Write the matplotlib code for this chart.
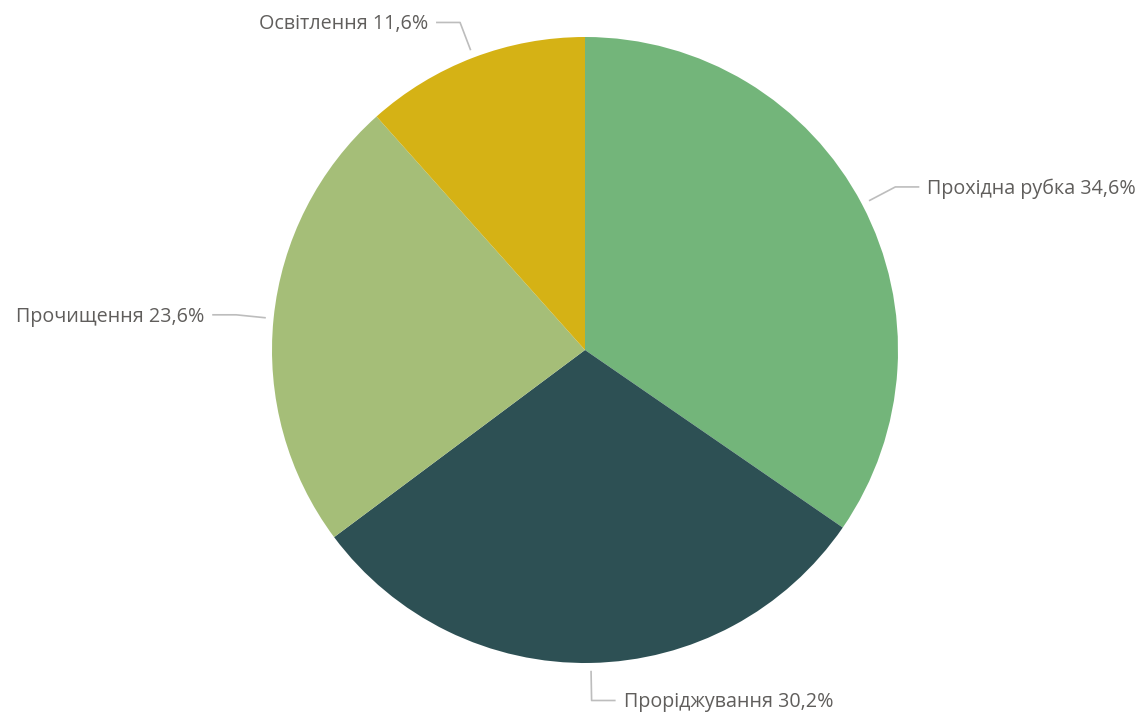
import numpy as np
import matplotlib
matplotlib.use("Agg")
import matplotlib.pyplot as plt

labels = ["Прохідна рубка", "Проріджування", "Прочищення", "Освітлення"]
shares = [34.6, 30.2, 23.6, 11.6]
colors = ["#73B57A", "#2D5054", "#A5BE78", "#D5B215"]

W, H = 1147, 720
fig = plt.figure(figsize=(W / 100, H / 100), dpi=100)
ax = fig.add_axes([0, 0, 1, 1])

cx, cy, R = 585, H - 350, 313
wedges, _ = ax.pie(shares, colors=colors, startangle=90, counterclock=False,
                   center=(cx, cy), radius=R, frame=True,
                   wedgeprops=dict(linewidth=0))
ax.set_xlim(0, W)
ax.set_ylim(0, H)
ax.set_aspect("equal")
ax.axis("off")

# leader lines: short radial segment, then horizontal, then label
for w, lab, val in zip(wedges, labels, shares):
    ang = np.deg2rad((w.theta1 + w.theta2) / 2)
    c, s = np.cos(ang), np.sin(ang)
    x0, y0 = cx + 1.025 * R * c, cy + 1.025 * R * s
    x1, y1 = cx + 1.12 * R * c, cy + 1.12 * R * s
    side = 1 if c >= 0 else -1
    x2 = x1 + side * 24
    ax.plot([x0, x1, x2], [y0, y1, y1], color="#BDBDBD", lw=1.2,
            solid_capstyle="butt")
    ax.text(x2 + side * 8, y1 - 2, f"{lab} {val:.1f}%".replace(".", ","),
            ha="left" if side > 0 else "right", va="center",
            fontsize=14.2, color="#605E5C", family="Open Sans")

fig.savefig("out.png", dpi=100)
